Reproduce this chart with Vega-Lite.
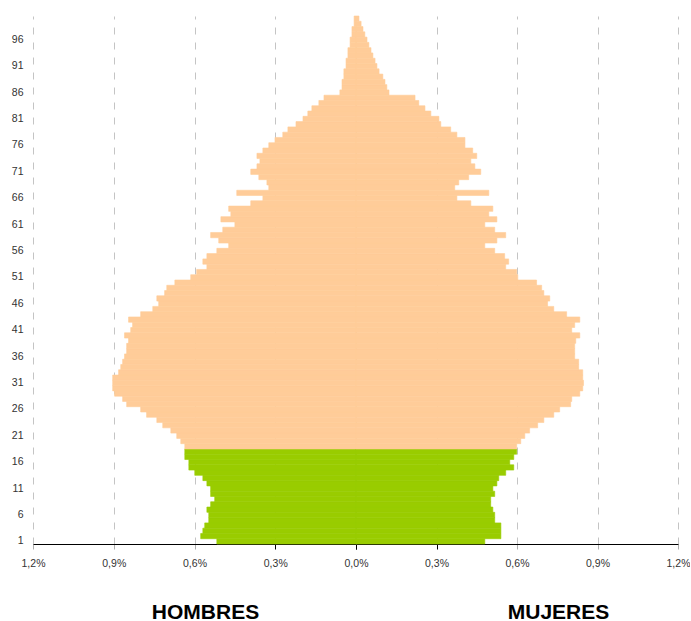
{
  "$schema": "https://vega.github.io/schema/vega-lite/v6.json",
  "padding": {"left": 5, "top": 15, "right": 0, "bottom": 0},
  "background": "white",
  "bounds": "flush",
  "config": {
    "view": {"stroke": null},
    "font": "Liberation Sans",
    "axisX": {
      "grid": true,
      "gridDash": [7, 8],
      "gridColor": "#c4c4c4",
      "gridWidth": 1,
      "domainColor": "#000000",
      "domainWidth": 1,
      "tickSize": 5,
      "labelPadding": 9,
      "labelFontSize": 10.5,
      "labelColor": "#333333",
      "labelFlush": false,
      "labelOverlap": false,
      "titleFontSize": 21,
      "titleFontWeight": "bold",
      "titleColor": "#000000",
      "titleAlign": "center",
      "titleBaseline": "alphabetic",
      "titleAnchor": "start"
    }
  },
  "data": {
    "values": [
      {"edad": 1, "sexo": "Hombres", "pct": 0.517}, {"edad": 2, "sexo": "Hombres", "pct": 0.577},
      {"edad": 3, "sexo": "Hombres", "pct": 0.569}, {"edad": 4, "sexo": "Hombres", "pct": 0.562},
      {"edad": 5, "sexo": "Hombres", "pct": 0.547}, {"edad": 6, "sexo": "Hombres", "pct": 0.547},
      {"edad": 7, "sexo": "Hombres", "pct": 0.554}, {"edad": 8, "sexo": "Hombres", "pct": 0.540},
      {"edad": 9, "sexo": "Hombres", "pct": 0.525}, {"edad": 10, "sexo": "Hombres", "pct": 0.540},
      {"edad": 11, "sexo": "Hombres", "pct": 0.540}, {"edad": 12, "sexo": "Hombres", "pct": 0.554},
      {"edad": 13, "sexo": "Hombres", "pct": 0.569}, {"edad": 14, "sexo": "Hombres", "pct": 0.599},
      {"edad": 15, "sexo": "Hombres", "pct": 0.621}, {"edad": 16, "sexo": "Hombres", "pct": 0.621},
      {"edad": 17, "sexo": "Hombres", "pct": 0.636}, {"edad": 18, "sexo": "Hombres", "pct": 0.636},
      {"edad": 19, "sexo": "Hombres", "pct": 0.636}, {"edad": 20, "sexo": "Hombres", "pct": 0.651},
      {"edad": 21, "sexo": "Hombres", "pct": 0.666}, {"edad": 22, "sexo": "Hombres", "pct": 0.688},
      {"edad": 23, "sexo": "Hombres", "pct": 0.718}, {"edad": 24, "sexo": "Hombres", "pct": 0.740},
      {"edad": 25, "sexo": "Hombres", "pct": 0.778}, {"edad": 26, "sexo": "Hombres", "pct": 0.800},
      {"edad": 27, "sexo": "Hombres", "pct": 0.852}, {"edad": 28, "sexo": "Hombres", "pct": 0.867},
      {"edad": 29, "sexo": "Hombres", "pct": 0.897}, {"edad": 30, "sexo": "Hombres", "pct": 0.904},
      {"edad": 31, "sexo": "Hombres", "pct": 0.904}, {"edad": 32, "sexo": "Hombres", "pct": 0.904},
      {"edad": 33, "sexo": "Hombres", "pct": 0.882}, {"edad": 34, "sexo": "Hombres", "pct": 0.874},
      {"edad": 35, "sexo": "Hombres", "pct": 0.867}, {"edad": 36, "sexo": "Hombres", "pct": 0.860},
      {"edad": 37, "sexo": "Hombres", "pct": 0.852}, {"edad": 38, "sexo": "Hombres", "pct": 0.852},
      {"edad": 39, "sexo": "Hombres", "pct": 0.845}, {"edad": 40, "sexo": "Hombres", "pct": 0.860},
      {"edad": 41, "sexo": "Hombres", "pct": 0.837}, {"edad": 42, "sexo": "Hombres", "pct": 0.830},
      {"edad": 43, "sexo": "Hombres", "pct": 0.845}, {"edad": 44, "sexo": "Hombres", "pct": 0.800},
      {"edad": 45, "sexo": "Hombres", "pct": 0.755}, {"edad": 46, "sexo": "Hombres", "pct": 0.733},
      {"edad": 47, "sexo": "Hombres", "pct": 0.740}, {"edad": 48, "sexo": "Hombres", "pct": 0.711},
      {"edad": 49, "sexo": "Hombres", "pct": 0.703}, {"edad": 50, "sexo": "Hombres", "pct": 0.673},
      {"edad": 51, "sexo": "Hombres", "pct": 0.614}, {"edad": 52, "sexo": "Hombres", "pct": 0.592},
      {"edad": 53, "sexo": "Hombres", "pct": 0.554}, {"edad": 54, "sexo": "Hombres", "pct": 0.569},
      {"edad": 55, "sexo": "Hombres", "pct": 0.554}, {"edad": 56, "sexo": "Hombres", "pct": 0.517},
      {"edad": 57, "sexo": "Hombres", "pct": 0.473}, {"edad": 58, "sexo": "Hombres", "pct": 0.510},
      {"edad": 59, "sexo": "Hombres", "pct": 0.540}, {"edad": 60, "sexo": "Hombres", "pct": 0.495},
      {"edad": 61, "sexo": "Hombres", "pct": 0.450}, {"edad": 62, "sexo": "Hombres", "pct": 0.502},
      {"edad": 63, "sexo": "Hombres", "pct": 0.465}, {"edad": 64, "sexo": "Hombres", "pct": 0.473},
      {"edad": 65, "sexo": "Hombres", "pct": 0.391}, {"edad": 66, "sexo": "Hombres", "pct": 0.346},
      {"edad": 67, "sexo": "Hombres", "pct": 0.443}, {"edad": 68, "sexo": "Hombres", "pct": 0.324},
      {"edad": 69, "sexo": "Hombres", "pct": 0.331}, {"edad": 70, "sexo": "Hombres", "pct": 0.361},
      {"edad": 71, "sexo": "Hombres", "pct": 0.391}, {"edad": 72, "sexo": "Hombres", "pct": 0.368},
      {"edad": 73, "sexo": "Hombres", "pct": 0.357}, {"edad": 74, "sexo": "Hombres", "pct": 0.368},
      {"edad": 75, "sexo": "Hombres", "pct": 0.346}, {"edad": 76, "sexo": "Hombres", "pct": 0.324},
      {"edad": 77, "sexo": "Hombres", "pct": 0.301}, {"edad": 78, "sexo": "Hombres", "pct": 0.272},
      {"edad": 79, "sexo": "Hombres", "pct": 0.253}, {"edad": 80, "sexo": "Hombres", "pct": 0.223},
      {"edad": 81, "sexo": "Hombres", "pct": 0.197}, {"edad": 82, "sexo": "Hombres", "pct": 0.179},
      {"edad": 83, "sexo": "Hombres", "pct": 0.164}, {"edad": 84, "sexo": "Hombres", "pct": 0.138},
      {"edad": 85, "sexo": "Hombres", "pct": 0.119}, {"edad": 86, "sexo": "Hombres", "pct": 0.060},
      {"edad": 87, "sexo": "Hombres", "pct": 0.052}, {"edad": 88, "sexo": "Hombres", "pct": 0.052},
      {"edad": 89, "sexo": "Hombres", "pct": 0.045}, {"edad": 90, "sexo": "Hombres", "pct": 0.045},
      {"edad": 91, "sexo": "Hombres", "pct": 0.037}, {"edad": 92, "sexo": "Hombres", "pct": 0.037},
      {"edad": 93, "sexo": "Hombres", "pct": 0.030}, {"edad": 94, "sexo": "Hombres", "pct": 0.030},
      {"edad": 95, "sexo": "Hombres", "pct": 0.022}, {"edad": 96, "sexo": "Hombres", "pct": 0.022},
      {"edad": 97, "sexo": "Hombres", "pct": 0.015}, {"edad": 98, "sexo": "Hombres", "pct": 0.015},
      {"edad": 99, "sexo": "Hombres", "pct": 0.007}, {"edad": 100, "sexo": "Hombres", "pct": 0.007},
      {"edad": 1, "sexo": "Mujeres", "pct": 0.480}, {"edad": 2, "sexo": "Mujeres", "pct": 0.540},
      {"edad": 3, "sexo": "Mujeres", "pct": 0.540}, {"edad": 4, "sexo": "Mujeres", "pct": 0.540},
      {"edad": 5, "sexo": "Mujeres", "pct": 0.517}, {"edad": 6, "sexo": "Mujeres", "pct": 0.517},
      {"edad": 7, "sexo": "Mujeres", "pct": 0.510}, {"edad": 8, "sexo": "Mujeres", "pct": 0.502},
      {"edad": 9, "sexo": "Mujeres", "pct": 0.502}, {"edad": 10, "sexo": "Mujeres", "pct": 0.517},
      {"edad": 11, "sexo": "Mujeres", "pct": 0.510}, {"edad": 12, "sexo": "Mujeres", "pct": 0.525},
      {"edad": 13, "sexo": "Mujeres", "pct": 0.532}, {"edad": 14, "sexo": "Mujeres", "pct": 0.558},
      {"edad": 15, "sexo": "Mujeres", "pct": 0.588}, {"edad": 16, "sexo": "Mujeres", "pct": 0.573},
      {"edad": 17, "sexo": "Mujeres", "pct": 0.588}, {"edad": 18, "sexo": "Mujeres", "pct": 0.599},
      {"edad": 19, "sexo": "Mujeres", "pct": 0.599}, {"edad": 20, "sexo": "Mujeres", "pct": 0.614},
      {"edad": 21, "sexo": "Mujeres", "pct": 0.629}, {"edad": 22, "sexo": "Mujeres", "pct": 0.647},
      {"edad": 23, "sexo": "Mujeres", "pct": 0.677}, {"edad": 24, "sexo": "Mujeres", "pct": 0.700},
      {"edad": 25, "sexo": "Mujeres", "pct": 0.737}, {"edad": 26, "sexo": "Mujeres", "pct": 0.759},
      {"edad": 27, "sexo": "Mujeres", "pct": 0.800}, {"edad": 28, "sexo": "Mujeres", "pct": 0.804},
      {"edad": 29, "sexo": "Mujeres", "pct": 0.834}, {"edad": 30, "sexo": "Mujeres", "pct": 0.845},
      {"edad": 31, "sexo": "Mujeres", "pct": 0.848}, {"edad": 32, "sexo": "Mujeres", "pct": 0.845},
      {"edad": 33, "sexo": "Mujeres", "pct": 0.845}, {"edad": 34, "sexo": "Mujeres", "pct": 0.830},
      {"edad": 35, "sexo": "Mujeres", "pct": 0.830}, {"edad": 36, "sexo": "Mujeres", "pct": 0.815},
      {"edad": 37, "sexo": "Mujeres", "pct": 0.815}, {"edad": 38, "sexo": "Mujeres", "pct": 0.815},
      {"edad": 39, "sexo": "Mujeres", "pct": 0.819}, {"edad": 40, "sexo": "Mujeres", "pct": 0.834},
      {"edad": 41, "sexo": "Mujeres", "pct": 0.804}, {"edad": 42, "sexo": "Mujeres", "pct": 0.815},
      {"edad": 43, "sexo": "Mujeres", "pct": 0.834}, {"edad": 44, "sexo": "Mujeres", "pct": 0.785},
      {"edad": 45, "sexo": "Mujeres", "pct": 0.737}, {"edad": 46, "sexo": "Mujeres", "pct": 0.714},
      {"edad": 47, "sexo": "Mujeres", "pct": 0.722}, {"edad": 48, "sexo": "Mujeres", "pct": 0.700},
      {"edad": 49, "sexo": "Mujeres", "pct": 0.692}, {"edad": 50, "sexo": "Mujeres", "pct": 0.673},
      {"edad": 51, "sexo": "Mujeres", "pct": 0.603}, {"edad": 52, "sexo": "Mujeres", "pct": 0.599},
      {"edad": 53, "sexo": "Mujeres", "pct": 0.558}, {"edad": 54, "sexo": "Mujeres", "pct": 0.569},
      {"edad": 55, "sexo": "Mujeres", "pct": 0.554}, {"edad": 56, "sexo": "Mujeres", "pct": 0.517},
      {"edad": 57, "sexo": "Mujeres", "pct": 0.480}, {"edad": 58, "sexo": "Mujeres", "pct": 0.525},
      {"edad": 59, "sexo": "Mujeres", "pct": 0.558}, {"edad": 60, "sexo": "Mujeres", "pct": 0.517},
      {"edad": 61, "sexo": "Mujeres", "pct": 0.480}, {"edad": 62, "sexo": "Mujeres", "pct": 0.525},
      {"edad": 63, "sexo": "Mujeres", "pct": 0.495}, {"edad": 64, "sexo": "Mujeres", "pct": 0.510},
      {"edad": 65, "sexo": "Mujeres", "pct": 0.428}, {"edad": 66, "sexo": "Mujeres", "pct": 0.376},
      {"edad": 67, "sexo": "Mujeres", "pct": 0.495}, {"edad": 68, "sexo": "Mujeres", "pct": 0.368},
      {"edad": 69, "sexo": "Mujeres", "pct": 0.383}, {"edad": 70, "sexo": "Mujeres", "pct": 0.420},
      {"edad": 71, "sexo": "Mujeres", "pct": 0.465}, {"edad": 72, "sexo": "Mujeres", "pct": 0.443},
      {"edad": 73, "sexo": "Mujeres", "pct": 0.428}, {"edad": 74, "sexo": "Mujeres", "pct": 0.450},
      {"edad": 75, "sexo": "Mujeres", "pct": 0.435}, {"edad": 76, "sexo": "Mujeres", "pct": 0.406},
      {"edad": 77, "sexo": "Mujeres", "pct": 0.406}, {"edad": 78, "sexo": "Mujeres", "pct": 0.376},
      {"edad": 79, "sexo": "Mujeres", "pct": 0.353}, {"edad": 80, "sexo": "Mujeres", "pct": 0.316},
      {"edad": 81, "sexo": "Mujeres", "pct": 0.309}, {"edad": 82, "sexo": "Mujeres", "pct": 0.279},
      {"edad": 83, "sexo": "Mujeres", "pct": 0.257}, {"edad": 84, "sexo": "Mujeres", "pct": 0.234},
      {"edad": 85, "sexo": "Mujeres", "pct": 0.220}, {"edad": 86, "sexo": "Mujeres", "pct": 0.123},
      {"edad": 87, "sexo": "Mujeres", "pct": 0.115}, {"edad": 88, "sexo": "Mujeres", "pct": 0.108},
      {"edad": 89, "sexo": "Mujeres", "pct": 0.100}, {"edad": 90, "sexo": "Mujeres", "pct": 0.086},
      {"edad": 91, "sexo": "Mujeres", "pct": 0.078}, {"edad": 92, "sexo": "Mujeres", "pct": 0.071},
      {"edad": 93, "sexo": "Mujeres", "pct": 0.063}, {"edad": 94, "sexo": "Mujeres", "pct": 0.056},
      {"edad": 95, "sexo": "Mujeres", "pct": 0.048}, {"edad": 96, "sexo": "Mujeres", "pct": 0.041},
      {"edad": 97, "sexo": "Mujeres", "pct": 0.033}, {"edad": 98, "sexo": "Mujeres", "pct": 0.026},
      {"edad": 99, "sexo": "Mujeres", "pct": 0.019}, {"edad": 100, "sexo": "Mujeres", "pct": 0.011}
    ]
  },
  "spacing": 0,
  "hconcat": [
    {
      "width": 323,
      "height": 528,
      "transform": [{"filter": "datum.sexo === 'Hombres'"}],
      "mark": {"type": "bar", "strokeWidth": 0.6},
      "encoding": {
        "y": {
          "field": "edad",
          "type": "ordinal",
          "sort": "descending",
          "scale": {"paddingInner": 0, "paddingOuter": 0},
          "axis": {
            "values": [1, 6, 11, 16, 21, 26, 31, 36, 41, 46, 51, 56, 61, 66, 71, 76, 81, 86, 91, 96],
            "ticks": false,
            "domain": false,
            "grid": false,
            "title": null,
            "labelPadding": 10,
            "labelFontSize": 10.5,
            "labelColor": "#333333",
            "minExtent": 28,
            "maxExtent": 28
          }
        },
        "x": {
          "field": "pct",
          "type": "quantitative",
          "scale": {"domain": [0, 1.2], "reverse": true, "nice": false},
          "axis": {
            "values": [0, 0.3, 0.6, 0.9, 1.2],
            "tickColor": {"condition": {"test": "datum.value >= 0.6", "value": "#b0b0b0"}, "value": "#000000"},
            "title": "HOMBRES",
            "titleX": 172,
            "titleY": 74,
            "labelExpr": "datum.value == 0 ? '' : replace(format(datum.value, '.1f'), '.', ',') + '%'"
          }
        },
        "color": {"condition": {"test": "datum.edad <= 18", "value": "#99CC00"}, "value": "#FFCC99"},
        "stroke": {"condition": {"test": "datum.edad <= 18", "value": "#99CC00"}, "value": "#FFCC99"}
      }
    },
    {
      "width": 322,
      "height": 528,
      "transform": [{"filter": "datum.sexo === 'Mujeres'"}],
      "mark": {"type": "bar", "strokeWidth": 0.6},
      "encoding": {
        "y": {
          "field": "edad",
          "type": "ordinal",
          "sort": "descending",
          "scale": {"paddingInner": 0, "paddingOuter": 0},
          "axis": null
        },
        "x": {
          "field": "pct",
          "type": "quantitative",
          "scale": {"domain": [0, 1.2], "nice": false},
          "axis": {
            "values": [0, 0.3, 0.6, 0.9, 1.2],
            "tickColor": {"condition": {"test": "datum.value >= 0.6", "value": "#b0b0b0"}, "value": "#000000"},
            "title": "MUJERES",
            "titleX": 202,
            "titleY": 74,
            "labelExpr": "replace(format(datum.value, '.1f'), '.', ',') + '%'"
          }
        },
        "color": {"condition": {"test": "datum.edad <= 18", "value": "#99CC00"}, "value": "#FFCC99"},
        "stroke": {"condition": {"test": "datum.edad <= 18", "value": "#99CC00"}, "value": "#FFCC99"}
      }
    }
  ],
  "resolve": {"scale": {"x": "independent"}}
}
